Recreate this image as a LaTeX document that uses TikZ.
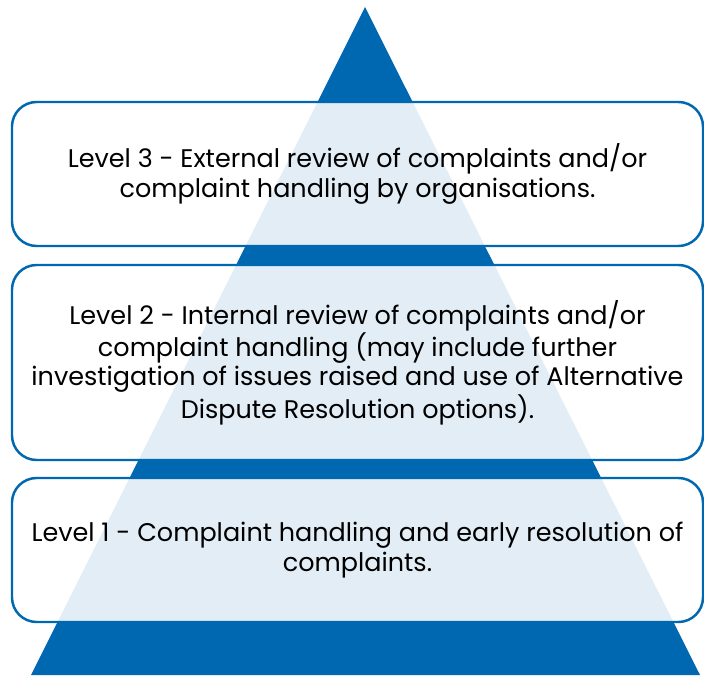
\documentclass[tikz,border=0pt]{standalone}
\usepackage{fontspec}
\setmainfont{Poppins}
\definecolor{pyrblue}{RGB}{0,103,177}

\begin{document}
\begin{tikzpicture}

        \useasboundingbox (0,0) rectangle (14.08,13.5);

        % pyramid
        \fill[pyrblue] (0.62,0) -- (7.3,13.36) -- (14.0,0) -- cycle;

        \begin{scope}[every node/.style={draw=pyrblue,line width=1.4pt,rounded corners=14pt,
            fill=white,fill opacity=0.886,text opacity=1,align=center,
            minimum width=13.82cm,font=\fontsize{14.5}{16.8}\selectfont}]
          \node (level3) [minimum height=2.88cm] at (7.15,10.02)
            {Level 3 - External review of complaints and/or\\
             complaint handling by organisations.};
          \node (level2) [minimum height=3.9cm] at (7.15,6.25)
            {Level 2 - Internal review of complaints and/or\\
             complaint handling (may include further\\
             investigation of issues raised and use of Alternative\\
             Dispute Resolution options).};
          \node (level1) [minimum height=2.88cm] at (7.15,2.5)
            {Level 1 - Complaint handling and early resolution of\\
             complaints.};
        \end{scope}

      \end{tikzpicture}
\end{document}
